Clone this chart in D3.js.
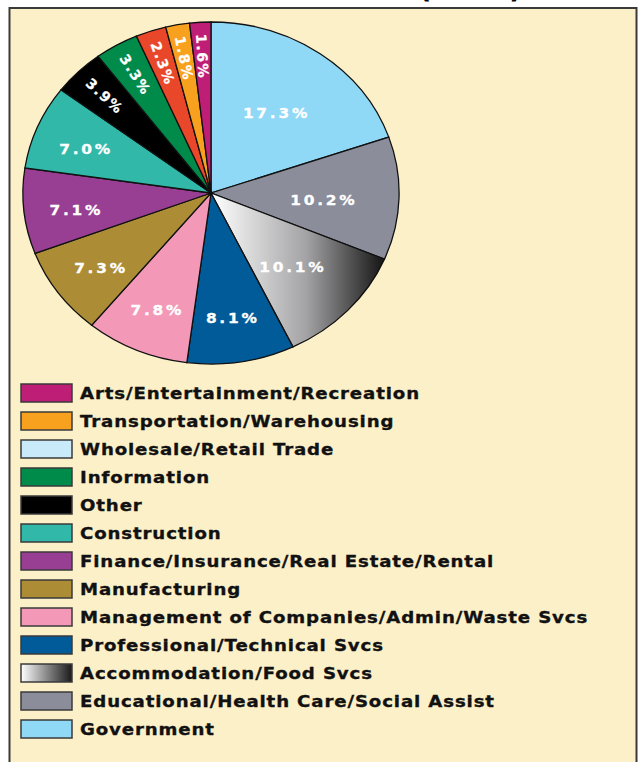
<!DOCTYPE html>
<html>
<head>
<meta charset="utf-8">
<script src="https://cdn.jsdelivr.net/npm/d3@7"></script>
<style>
  body { margin: 0; background: #fff; }
  svg { display: block; }
  .lbl { font-family: "DejaVu Sans", sans-serif; font-weight: bold; fill: #fff; stroke: #fff; stroke-width: 0.3px; }
  .leg { font-family: "DejaVu Sans", sans-serif; font-weight: bold; fill: #111; stroke: #111; stroke-width: 0.35px; }
</style>
</head>
<body>
<svg id="chart" width="639" height="762"></svg>
<script>
// pie order, clockwise from 12 o'clock
const categories = [
  'Government',
  'Educational/Health Care/Social Assist',
  'Accommodation/Food Svcs',
  'Professional/Technical Svcs',
  'Management of Companies/Admin/Waste Svcs',
  'Manufacturing',
  'Finance/Insurance/Real Estate/Rental',
  'Construction',
  'Other',
  'Information',
  'Wholesale/Retail Trade',
  'Transportation/Warehousing',
  'Arts/Entertainment/Recreation'
];
const shares = [17.3, 10.2, 10.1, 8.1, 7.8, 7.3, 7.1, 7.0, 3.9, 3.3, 2.3, 1.8, 1.6];
const sliceColors = ['#8fd8f6', '#8b8d9b', 'url(#accom)', '#005b98', '#f398b6', '#ac8d36',
                     '#983f93', '#32b8a9', '#000000', '#008b4b', '#e9472a', '#f8a11f', '#bf1e77'];
// the legend swatch for Wholesale is pale blue in the original, not red
const swatchColors = ['#8fd8f6', '#8b8d9b', 'url(#accomLeg)', '#005b98', '#f398b6', '#ac8d36',
                      '#983f93', '#32b8a9', '#000000', '#008b4b', '#c9eaf8', '#f8a11f', '#bf1e77'];
const title = 'EMPLOYMENT BY INDUSTRY (2012)';

const svg = d3.select('#chart');
const sx = 1.1;          // the picture is stretched sideways
const cx = 211, cy = 193, R = 171;

const defs = svg.append('defs');
function grad(id, stops) {
  const g = defs.append('linearGradient').attr('id', id)
    .attr('x1', '0%').attr('x2', '100%').attr('y1', '0%').attr('y2', '0%');
  stops.forEach(s => g.append('stop').attr('offset', s[0]).attr('stop-color', s[1]));
}
grad('accom', [['0%', '#ffffff'], ['55%', '#a3a3a5'], ['100%', '#141414']]);
grad('accomLeg', [['0%', '#ffffff'], ['50%', '#8a8a8a'], ['100%', '#1a1a1a']]);

// title sits above the frame, only the bottom of it is in view
svg.append('text')
  .attr('x', 522).attr('y', -2)
  .attr('text-anchor', 'end')
  .style('font-family', '"DejaVu Sans", sans-serif')
  .style('font-weight', 'bold')
  .style('font-size', '28px')
  .text(title);

// frame
svg.append('rect')
  .attr('x', 9.5).attr('y', 8)
  .attr('width', 627).attr('height', 780)
  .attr('fill', '#fcf0c9')
  .attr('stroke', '#3a3a3a')
  .attr('stroke-width', 2);

const data = categories.map((c, i) => ({ name: c, val: shares[i], i: i }));

const pie = d3.pie().sort(null).value(d => d.val);
const arcs = pie(data);
const path = d3.arc().innerRadius(0).outerRadius(R);

const g = svg.append('g')
  .attr('transform', 'translate(' + cx + ',' + cy + ') scale(' + sx + ',1)');

g.selectAll('.slice')
  .data(arcs)
  .enter()
  .append('path')
  .attr('class', 'slice')
  .attr('d', path)
  .attr('fill', d => sliceColors[d.data.i])
  .attr('stroke', '#111')
  .attr('stroke-width', 1.3)
  .attr('vector-effect', 'non-scaling-stroke');

// labels: big slices flat, small slices turned along the radius
function labelRadius(v) {
  if (v >= 10) return 0.6 * R;
  if (v >= 5) return 0.72 * R;
  return 0.8 * R;
}

arcs.forEach(d => {
  const r = labelRadius(d.data.val);
  const c = d3.arc().innerRadius(r).outerRadius(r).centroid(d);
  const x = cx + c[0] * sx, y = cy + c[1];
  const t = svg.append('text')
    .attr('class', 'lbl')
    .attr('text-anchor', 'middle')
    .style('font-size', '14px')
    .text(d.data.val.toFixed(1) + '%');
  if (d.data.val < 5) {
    const a = Math.atan2(-c[1], -c[0] * sx) * 180 / Math.PI;
    t.attr('dy', '0.36em')
      .style('letter-spacing', '1.6px')
      .attr('transform', 'translate(' + x + ',' + y + ') rotate(' + a + ')');
  } else {
    t.attr('dy', '0.62em')
      .style('letter-spacing', '2.5px')
      .attr('transform', 'translate(' + x + ',' + y + ') scale(' + sx + ',1)');
  }
});

// legend, listed in reverse pie order
const legendItems = data.slice().reverse();
const leg = svg.append('g');
const row = leg.selectAll('.row')
  .data(legendItems)
  .enter()
  .append('g')
  .attr('class', 'row')
  .attr('transform', (d, k) => 'translate(0,' + (393 + k * 28) + ')');

row.append('rect')
  .attr('x', 21).attr('y', -9)
  .attr('width', 51).attr('height', 18)
  .attr('fill', d => swatchColors[d.i])
  .attr('stroke', '#3a3a3a')
  .attr('stroke-width', 1.5);

row.append('text')
  .attr('class', 'leg')
  .attr('transform', 'translate(80,6) scale(' + sx + ',1)')
  .style('font-size', '16.5px')
  .style('letter-spacing', '0.8px')
  .text(d => d.name);
</script>
</body>
</html>
